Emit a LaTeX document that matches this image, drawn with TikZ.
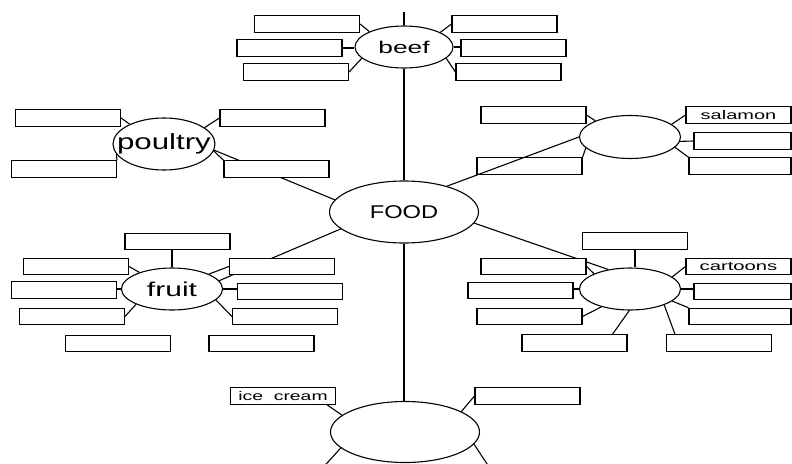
\documentclass[tikz,border=0pt]{standalone}
\usepackage{fontspec}
\usepackage{graphicx}
\setmainfont{Liberation Sans}
\usetikzlibrary{shapes.geometric,calc}
\pgfdeclarelayer{bg}
\pgfsetlayers{bg,main}
\newcommand{\wtext}[3]{\makebox[0pt]{\fontsize{#1}{#1}\selectfont\scalebox{#2}[1]{#3}}}
\begin{document}
\begin{tikzpicture}[x=1pt,y=-1pt,line width=1.1pt,
  ell/.style={ellipse,draw,fill=white,inner sep=0pt},
  box/.style={rectangle,draw,fill=white,inner sep=0pt,minimum width=105pt,minimum height=16.5pt},
  link/.style={draw,line width=1.1pt}]
\useasboundingbox (0,0) rectangle (792,463);

% ellipses
\node[ell,minimum width=98pt,minimum height=42pt] (beef) at (404,47) {\wtext{17}{1.55}{beef}};
\node[ell,minimum width=102pt,minimum height=52pt] (poul) at (164,144) {\wtext{22}{1.42}{poultry}};
\node[ell,minimum width=101pt,minimum height=43pt] (sal) at (630,137) {};
\node[ell,minimum width=149pt,minimum height=62pt] (food) at (404,212) {\wtext{18.5}{1.28}{FOOD}};
\node[ell,minimum width=101pt,minimum height=42pt] (fruit) at (172,289) {\wtext{20}{1.5}{fruit}};
\node[ell,minimum width=101pt,minimum height=42pt] (cart) at (630,289) {};
\node[ell,minimum width=149pt,minimum height=61pt] (bot) at (405,432) {};

% beef boxes
\node[box] (B1) at (307,24) {};
\node[box] (B2) at (289.5,48) {};
\node[box] (B3) at (296,72) {};
\node[box] (B4) at (504.5,24) {};
\node[box] (B5) at (513.5,48) {};
\node[box] (B6) at (508.5,72) {};
% poultry boxes
\node[box] (P1) at (68,118) {};
\node[box] (P2) at (272.5,118) {};
\node[box] (P3) at (64,169) {};
\node[box] (P4) at (276.5,169) {};
% salmon boxes
\node[box] (S1) at (533.5,115) {};
\node[box] (S2) at (738.5,115) {\wtext{12.5}{1.6}{salamon}};
\node[box,minimum width=97pt] (S3) at (742.5,141) {};
\node[box,minimum width=102pt] (S4) at (740,166) {};
\node[box] (S5) at (529.5,166) {};
% fruit boxes
\node[box] (F1) at (177.5,241.5) {};
\node[box] (F2) at (76,266.5) {};
\node[box] (F3) at (282,266.5) {};
\node[box] (F4) at (64,290) {};
\node[box] (F5) at (290,291.5) {};
\node[box] (F6) at (72,316.5) {};
\node[box] (F7) at (285,316.5) {};
\node[box] (F8) at (118,343.5) {};
\node[box] (F9) at (261.5,343.5) {};
% cartoons boxes
\node[box] (C1) at (635,241) {};
\node[box] (C2) at (533.5,266.5) {};
\node[box] (C3) at (738.5,266.5) {\wtext{12.5}{1.62}{cartoons}};
\node[box] (C4) at (520.5,290.5) {};
\node[box,minimum width=97pt] (C5) at (742.5,291.5) {};
\node[box] (C6) at (529.5,316.5) {};
\node[box,minimum width=102pt] (C7) at (740,316.5) {};
\node[box] (C8) at (574.5,343) {};
\node[box] (C9) at (719,343) {};
% bottom boxes
\node[box] (I1) at (283,396) {\wtext{12.5}{1.55}{ice\ \ cream}};
\node[box] (I2) at (527.5,396) {};

\coordinate (topend) at (404,12);
\coordinate (bl) at (318,473);
\coordinate (br) at (493,473);

\begin{pgfonlayer}{bg}
\begin{scope}[line width=1.1pt]
% beef
\draw[link] (beef.north) -- (topend);
\draw[link] (beef.south) -- (food.north);
\draw[link] (B1.east) -- (beef.156);
\draw[link] (B2.east) -- (B2.east -| beef.west);
\draw[link] (B3.east) -- (beef.195);
\draw[link] (B4.west) -- (beef.22);
\draw[link] (beef.east) -- (beef.east -| B5.west);
\draw[link] (B6.west) -- (beef.345);
% poultry
\draw[link] (P1.east) -- (poul.150);
\draw[link] (P2.west) -- (poul.22);
\draw[link] (P3.north east) -- (poul.192);
\draw[link] (P4.north west) -- (poul.352);
\draw[link] (food.170) -- (poul.353);
% salmon
\draw[link] (S1.east) -- (sal.155);
\draw[link] (S2.west) -- (sal.17);
\draw[link] (S3.west) -- (sal.355);
\draw[link] (S4.north west) -- (sal.347);
\draw[link] (S5.north east) -- (sal.194);
% fruit
\draw[link] (F1.south -| fruit.north) -- (fruit.north);
\draw[link] (F2.east) -- (fruit.153);
\draw[link] (F3.west) -- (fruit.22);
\draw[link] (fruit.west) -- (fruit.west -| F4.east);
\draw[link] (fruit.east) -- (fruit.east -| F5.west);
\draw[link] (F6.east) -- (fruit.203);
\draw[link] (F7.west) -- (fruit.346);
\draw[link] (food.195) -- (fruit.10);
% cartoons
\draw[link] (C1.south) -- (C1.south |- cart.north);
\draw[link] (C2.east) -- (cart.157);
\draw[link] (C3.west) -- (cart.16);
\draw[link] (cart.west) -- (cart.west -| C4.east);
\draw[link] (cart.east) -- (cart.east -| C5.west);
\draw[link] (C6.east) -- (cart.212);
\draw[link] (C7.north west) -- (cart.344);
\draw[link] ($(C8.north east)+(-15,0)$) -- (cart.268);
\draw[link] ($(C9.north west)+(9,0)$) -- (cart.335);
\draw[link] (food.351) -- (cart.138);
% bottom
\draw[link] (food.south) -- (food.south |- bot.north);
\draw[link] ($(I1.south east)+(-9,0)$) -- (bot.165);
\draw[link] (I2.west) -- (bot.20);
\draw[link] (bot.194) -- (bl);
\draw[link] (bot.350) -- (br);
\end{scope}
\end{pgfonlayer}
\draw[link] (food.31) -- (sal.180);
\end{tikzpicture}
\end{document}
